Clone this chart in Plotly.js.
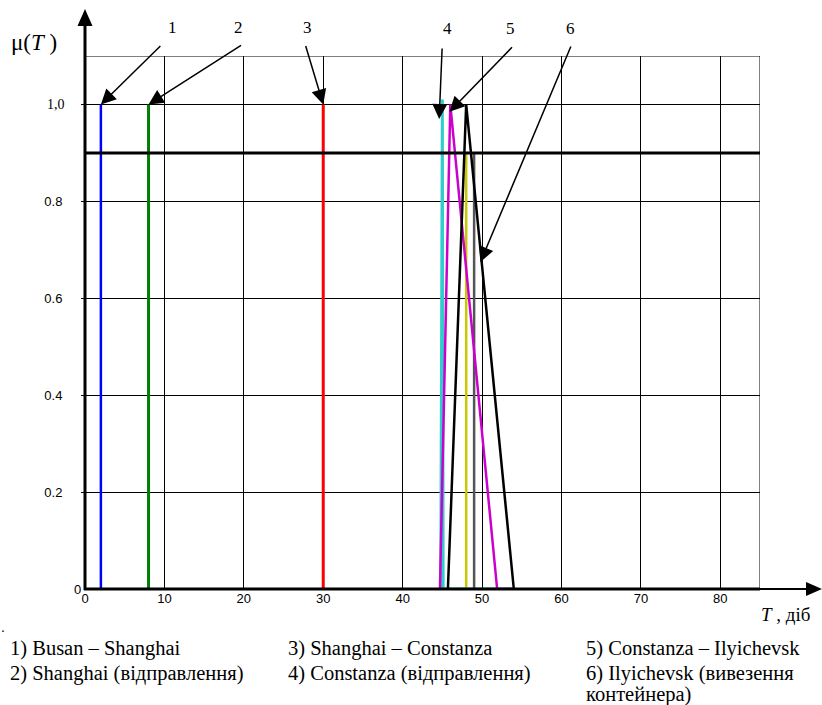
<!DOCTYPE html>
<html><head><meta charset="utf-8">
<script src="https://cdn.plot.ly/plotly-3.0.1.min.js"></script>
<style>html,body{margin:0;padding:0;background:#fff}</style>
</head><body><div id="chart" style="width:822px;height:705px"></div>
<script>
// ---- data ----
const busanX = [2, 2],          busanY = [0, 1];
const shanghaiX = [8, 8],       shanghaiY = [0, 1];
const seaX = [30, 30],          seaY = [0, 1];
const constanzaX = [44.8, 45, 45.1, 54], constanzaY = [0, 1.01, 0, 0];
const roadX = [44.7, 46, 51.9, 54],      roadY = [0, 1, 0, 0];
const exportX = [45.7, 48, 54],          exportY = [0, 1, 0];
const yellowX = [48, 48],       yellowY = [0, 0.9];
const grayX = [49, 49],         grayY = [0, 0.9];
const levelY = 0.9;
const xTicks = [0, 10, 20, 30, 40, 50, 60, 70, 80];
const yTicks = [0.2, 0.4, 0.6, 0.8, 1.0];
const yTickText = ['0.2', '0.4', '0.6', '0.8', ''];
const labels = [
  '1) Busan – Shanghai', '2) Shanghai (відправлення)',
  '3) Shanghai – Constanza', '4) Constanza (відправлення)',
  '5) Constanza – Ilyichevsk', '6) Ilyichevsk (вивезення', 'контейнера)'
];

const SERIF = '"Liberation Serif", "DejaVu Serif", serif';
const SANS = '"Liberation Sans", Arial, sans-serif';
const L = 85, R = 760, T = 56, B = 589;
const px = x => (x - L) / (R - L);
const py = y => (B - y) / (B - T);

function line(x, y, color, w) {
  return {x: x, y: y, type: 'scatter', mode: 'lines', hoverinfo: 'skip',
          line: {color: color, width: w}, showlegend: false};
}
const traces = [
  line(constanzaX, constanzaY, '#33cccc', 3),
  line(busanX, busanY, '#0000ff', 2.5),
  line(shanghaiX, shanghaiY, '#008000', 3),
  line(seaX, seaY, '#ff0000', 3),
  line(yellowX, yellowY, '#c8c800', 2.5),
  line(grayX, grayY, '#555555', 2.5),
  line(roadX, roadY, '#cc00cc', 2.5),
  line(exportX, exportY, '#000000', 2.5)
];

const shapes = [
  {type: 'line', xref: 'x', yref: 'y', x0: 0, x1: 85, y0: 1.1, y1: 1.1, line: {color: '#000', width: 1}},
  {type: 'line', xref: 'x', yref: 'y', x0: 85, x1: 85, y0: 0, y1: 1.1, line: {color: '#000', width: 1}},
  {type: 'line', xref: 'x', yref: 'y', x0: 0, x1: 85, y0: levelY, y1: levelY, line: {color: '#000', width: 3}},
  {type: 'line', xref: 'paper', yref: 'paper', x0: 0, x1: 0, y0: py(590), y1: py(24), line: {color: '#000', width: 3}},
  {type: 'path', xref: 'paper', yref: 'paper', line: {width: 0}, fillcolor: '#000',
   path: `M ${px(85)} ${py(9)} L ${px(77.5)} ${py(26)} L ${px(92.5)} ${py(26)} Z`},
  {type: 'line', xref: 'paper', yref: 'paper', x0: px(84), x1: 1, y0: 0, y1: 0, line: {color: '#000', width: 3}},
  {type: 'line', xref: 'paper', yref: 'paper', x0: 1, x1: px(810), y0: 0, y1: 0, line: {color: '#000', width: 2}},
  {type: 'path', xref: 'paper', yref: 'paper', line: {width: 0}, fillcolor: '#000',
   path: `M ${px(822)} ${py(589)} L ${px(806)} ${py(582)} L ${px(806)} ${py(596)} Z`}
];

const ann = [];
function txt(x, y, text, size, font, anchor) {
  ann.push({xref: 'paper', yref: 'paper', x: px(x), y: py(y), text: text, showarrow: false,
            xanchor: anchor || 'center', yanchor: 'middle', font: {family: font || SERIF, size: size || 16, color: '#000'}});
}
function arr(x, y, ax, ay) {
  ann.push({xref: 'x', yref: 'y', x: x, y: y, ax: ax, ay: ay, text: '', showarrow: true,
            arrowhead: 2, arrowsize: 2, arrowwidth: 1.5, arrowcolor: '#000', standoff: 0});
}
txt(172, 27, '1', 17); txt(238, 27, '2', 17); txt(307, 27, '3', 17);
txt(447, 29, '4', 17); txt(511, 28, '5', 17); txt(570, 28, '6', 17);
arr(busanX[1], busanY[1], 61, -60);
arr(shanghaiX[1], shanghaiY[1], 94, -60);
arr(seaX[1], seaY[1], -18, -60);
arr(44.6, 0.97, 3, -72);
arr(45.9, 0.985, 64, -66);
arr(49.8, 0.675, 91, -217);
txt(34, 43, 'μ(<i>T</i> )', 23);
txt(56, 104, '1,0', 14);
txt(77, 589, '0', 13, SANS);
txt(759, 614, '<i>T</i> , діб', 19, SERIF, 'left');
txt(3, 627, '.', 14, SANS);
txt(8, 648, labels[0], 20.5, SERIF, 'left');
txt(8, 673, labels[1], 20.5, SERIF, 'left');
txt(286, 648, labels[2], 20.5, SERIF, 'left');
txt(286, 673, labels[3], 20.5, SERIF, 'left');
txt(584, 648, labels[4], 20.5, SERIF, 'left');
txt(584, 673, labels[5], 20.5, SERIF, 'left');
txt(584, 694, labels[6], 20.5, SERIF, 'left');

const layout = {
  width: 822, height: 705,
  margin: {l: L, r: 822 - R, t: T, b: 705 - B, pad: 0},
  paper_bgcolor: '#fff', plot_bgcolor: '#fff',
  showlegend: false,
  xaxis: {range: [0, 85], tickvals: xTicks, showgrid: true, gridcolor: '#000', gridwidth: 1,
          zeroline: false, showline: false, ticks: '', fixedrange: true,
          tickfont: {family: SANS, size: 13, color: '#000'}},
  yaxis: {range: [0, 1.1], tickvals: yTicks, ticktext: yTickText, showgrid: true, gridcolor: '#000', gridwidth: 1,
          zeroline: false, showline: false, ticks: 'outside', ticklen: 3, tickcolor: '#000', tickwidth: 1,
          ticklabelstandoff: 16, fixedrange: true,
          tickfont: {family: SANS, size: 13, color: '#000'}},
  shapes: shapes,
  annotations: ann
};
Plotly.newPlot('chart', traces, layout, {displayModeBar: false, staticPlot: true});
</script>
</body></html>
